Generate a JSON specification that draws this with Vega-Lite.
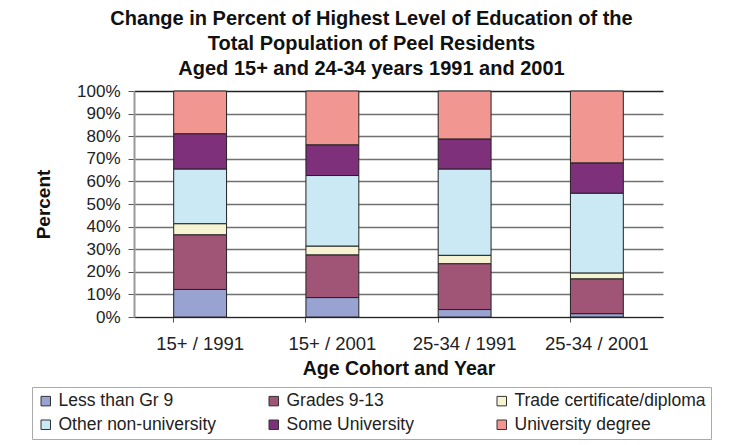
{
  "$schema": "https://vega.github.io/schema/vega-lite/v6.json",
  "autosize": "none",
  "width": 529,
  "height": 226,
  "padding": {"left": 134, "top": 91, "right": 67, "bottom": 128},
  "background": "white",
  "title": {
    "text": ["Change in Percent of Highest Level of Education of the", "Total Population of Peel Residents", "Aged 15+ and 24-34 years 1991 and 2001"],
    "anchor": "middle",
    "frame": "bounds",
    "font": "Liberation Sans",
    "fontSize": 20,
    "fontWeight": "bold",
    "color": "#111",
    "lineHeight": 25,
    "offset": 3
  },
  "data": {
    "values": [
      {"group": "15+ / 1991", "level": "Less than Gr 9", "k": 1, "pct": 12.2},
      {"group": "15+ / 1991", "level": "Grades 9-13", "k": 2, "pct": 24.2},
      {"group": "15+ / 1991", "level": "Trade certificate/diploma", "k": 3, "pct": 4.9},
      {"group": "15+ / 1991", "level": "Other non-university", "k": 4, "pct": 24.2},
      {"group": "15+ / 1991", "level": "Some University", "k": 5, "pct": 15.6},
      {"group": "15+ / 1991", "level": "University degree", "k": 6, "pct": 18.9},
      {"group": "15+ / 2001", "level": "Less than Gr 9", "k": 1, "pct": 8.6},
      {"group": "15+ / 2001", "level": "Grades 9-13", "k": 2, "pct": 18.9},
      {"group": "15+ / 2001", "level": "Trade certificate/diploma", "k": 3, "pct": 3.9},
      {"group": "15+ / 2001", "level": "Other non-university", "k": 4, "pct": 31.2},
      {"group": "15+ / 2001", "level": "Some University", "k": 5, "pct": 13.6},
      {"group": "15+ / 2001", "level": "University degree", "k": 6, "pct": 23.8},
      {"group": "25-34 / 1991", "level": "Less than Gr 9", "k": 1, "pct": 3.3},
      {"group": "25-34 / 1991", "level": "Grades 9-13", "k": 2, "pct": 20.3},
      {"group": "25-34 / 1991", "level": "Trade certificate/diploma", "k": 3, "pct": 3.7},
      {"group": "25-34 / 1991", "level": "Other non-university", "k": 4, "pct": 38.2},
      {"group": "25-34 / 1991", "level": "Some University", "k": 5, "pct": 13.3},
      {"group": "25-34 / 1991", "level": "University degree", "k": 6, "pct": 21.2},
      {"group": "25-34 / 2001", "level": "Less than Gr 9", "k": 1, "pct": 1.5},
      {"group": "25-34 / 2001", "level": "Grades 9-13", "k": 2, "pct": 15.4},
      {"group": "25-34 / 2001", "level": "Trade certificate/diploma", "k": 3, "pct": 2.6},
      {"group": "25-34 / 2001", "level": "Other non-university", "k": 4, "pct": 35.3},
      {"group": "25-34 / 2001", "level": "Some University", "k": 5, "pct": 13.4},
      {"group": "25-34 / 2001", "level": "University degree", "k": 6, "pct": 31.8}
    ]
  },
  "mark": {"type": "bar", "stroke": "#222", "strokeWidth": 1},
  "encoding": {
    "x": {
      "field": "group",
      "type": "nominal",
      "sort": null,
      "scale": {"paddingInner": 0.6, "paddingOuter": 0.3},
      "axis": {
        "title": "Age Cohort and Year",
        "labelAngle": 0,
        "bandPosition": 0,
        "labelFont": "Liberation Sans",
        "labelFontSize": 18.5,
        "labelColor": "#222",
        "labelPadding": 12,
        "tickSize": 5,
        "tickColor": "#555",
        "domainColor": "#222",
        "titleFont": "Liberation Sans",
        "titleFontSize": 19.5,
        "titleFontWeight": "bold",
        "titleColor": "#111",
        "titlePadding": 7
      }
    },
    "y": {
      "field": "pct",
      "type": "quantitative",
      "stack": "zero",
      "scale": {"domain": [0, 100]},
      "axis": {
        "title": "Percent",
        "values": [0, 10, 20, 30, 40, 50, 60, 70, 80, 90, 100],
        "labelExpr": "datum.value + '%'",
        "labelFont": "Liberation Sans",
        "labelFontSize": 17,
        "labelColor": "#222",
        "labelPadding": 8,
        "tickSize": 6,
        "tickColor": "#555",
        "domainColor": "#999",
        "domainWidth": 2,
        "grid": true,
        "gridColor": {"condition": {"test": "datum.value == 100", "value": "#222"}, "value": "#707070"},
        "gridWidth": 1.3,
        "titleFont": "Liberation Sans",
        "titleFontSize": 19,
        "titleFontWeight": "bold",
        "titleColor": "#111",
        "titlePadding": 23
      }
    },
    "color": {
      "field": "level",
      "type": "nominal",
      "scale": {
        "domain": ["Less than Gr 9", "Grades 9-13", "Trade certificate/diploma", "Other non-university", "Some University", "University degree"],
        "range": ["#99A3D2", "#A05577", "#F6F3D2", "#CAE9F4", "#7E307B", "#F29692"]
      },
      "legend": {
        "title": null,
        "orient": "none",
        "legendX": -102,
        "legendY": 296,
        "columns": 3,
        "direction": "horizontal",
        "gridAlign": "all",
        "columnPadding": 15,
        "rowPadding": 5,
        "padding": 5,
        "strokeColor": "#aaa",
        "symbolType": "square",
        "symbolSize": 90,
        "symbolStrokeColor": "#333",
        "symbolStrokeWidth": 1,
        "symbolOpacity": 1,
        "labelFont": "Liberation Sans",
        "labelFontSize": 17.5,
        "labelColor": "#222",
        "labelOffset": 4,
        "labelLimit": 300
      }
    },
    "order": {"field": "k", "type": "quantitative"}
  },
  "config": {"view": {"stroke": null}}
}
